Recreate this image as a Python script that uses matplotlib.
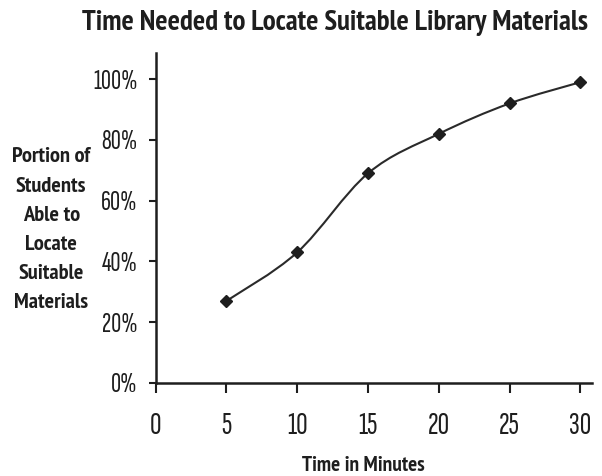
import matplotlib
matplotlib.use("Agg")
import matplotlib.pyplot as plt
from matplotlib.path import Path
from matplotlib.patches import PathPatch
from matplotlib import font_manager

minutes = [5, 10, 15, 20, 25, 30]
portion = [27, 43, 69, 82, 92, 99]
x_ticks = [0, 5, 10, 15, 20, 25, 30]
y_ticks = [0, 20, 40, 60, 80, 100]
y_tick_labels = ["0%", "20%", "40%", "60%", "80%", "100%"]
title = "Time Needed to Locate Suitable Library Materials"
y_label = "Portion of\nStudents\nAble to\nLocate\nSuitable\nMaterials"
x_label = "Time in Minutes"

names = {f.name for f in font_manager.fontManager.ttflist}
def pick(*cands):
    for c in cands:
        if c in names:
            return c
    return "DejaVu Sans"
bold_font = pick("PT Sans Narrow", "Fira Sans Condensed", "Open Sans Condensed", "Roboto Condensed")
tick_font = pick("Sofia Sans Extra Condensed", "Saira ExtraCondensed", "Barlow Condensed", "Roboto Condensed")

ink = "#1e1e1e"
fig = plt.figure(figsize=(6.02, 4.76), dpi=100)
ax = fig.add_axes([0.2586, 0.1954, 0.7243, 0.6939])
ax.set_xlim(0, 30.8)
ax.set_ylim(0, 108.7)
for s in ["top", "right"]:
    ax.spines[s].set_visible(False)
for s in ["left", "bottom"]:
    ax.spines[s].set_linewidth(1.8)
    ax.spines[s].set_color(ink)

# smoothed line (Bezier through the data points)
pts = list(zip(minutes, portion))
n = len(pts)
verts = [pts[0]]
codes = [Path.MOVETO]
for i in range(n - 1):
    p0 = pts[i - 1] if i > 0 else pts[i]
    p1 = pts[i]
    p2 = pts[i + 1]
    p3 = pts[i + 2] if i + 2 < n else pts[i + 1]
    c1 = (p1[0] + (p2[0] - p0[0]) / 6, p1[1] + (p2[1] - p0[1]) / 6)
    c2 = (p2[0] - (p3[0] - p1[0]) / 6, p2[1] - (p3[1] - p1[1]) / 6)
    verts += [c1, c2, p2]
    codes += [Path.CURVE4] * 3
ax.add_patch(PathPatch(Path(verts, codes), facecolor="none", edgecolor="#2a2a2a", lw=1.5, zorder=2))
ax.plot(minutes, portion, linestyle="none", marker="D", markersize=6.5, color=ink, zorder=3)

ax.set_xticks(x_ticks)
ax.set_xticklabels([str(v) for v in x_ticks])
ax.set_yticks(y_ticks)
ax.set_yticklabels(y_tick_labels)
ax.tick_params(axis="x", direction="out", length=7, width=1.5, color=ink, pad=14,
               labelsize=23, labelcolor=ink)
ax.tick_params(axis="y", direction="out", length=5, width=1.5, color=ink, pad=8,
               labelsize=20, labelcolor=ink)
for lab in ax.get_xticklabels() + ax.get_yticklabels():
    lab.set_fontfamily(tick_font)

t_title = fig.text(0.5565, 0.952, title, ha="center", va="center", fontsize=17,
                   fontweight="bold", family=bold_font, color=ink)
t_y = fig.text(0.085, 0.517, y_label, ha="center", va="center", fontsize=13,
               fontweight="bold", family=bold_font, color=ink, linespacing=1.68)
t_x = fig.text(0.6035, 0.023, x_label, ha="center", va="center", fontsize=13,
               fontweight="bold", family=bold_font, color=ink)

# fit text widths to the reference
r = fig.canvas.get_renderer()
def fit(t, target_px, sample=None):
    if sample is not None:
        orig = t.get_text()
        t.set_text(sample)
    w = t.get_window_extent(r).width
    t.set_fontsize(t.get_fontsize() * target_px / w)
    if sample is not None:
        t.set_text(orig)
fit(t_title, 506)
fit(t_y, 79, "Portion of")
fit(t_x, 123)

fig.savefig("out.png", dpi=100)
